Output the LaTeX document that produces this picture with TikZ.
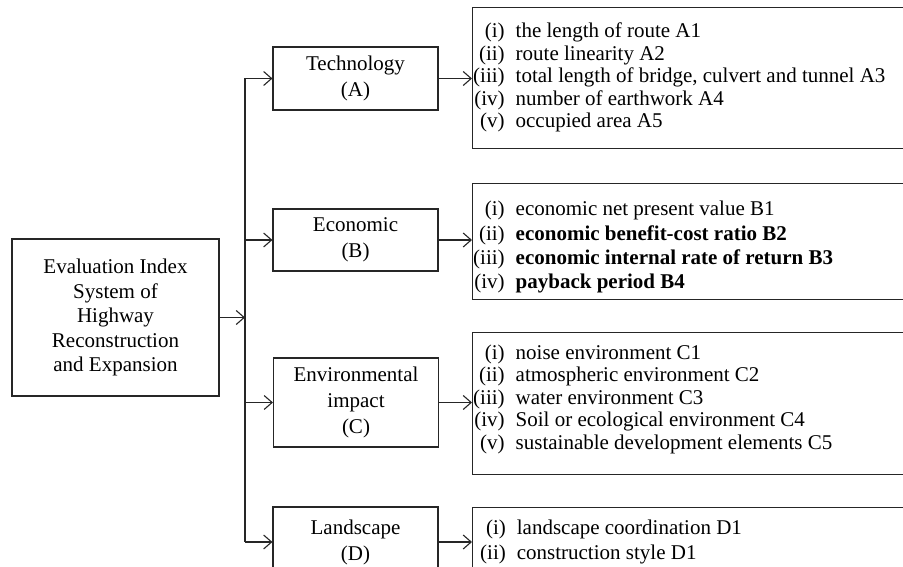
\documentclass[tikz,border=0pt]{standalone}
\usepackage{fontspec}
\setmainfont{Liberation Serif}
\usetikzlibrary{arrows.meta}
\definecolor{lc}{HTML}{262626}
\begin{document}
\begin{tikzpicture}[x=1pt,y=-1pt,
  box/.style={draw=lc, line width=1.1pt, rectangle, inner sep=0pt, align=center,
    text=black, font=\fontsize{21}{26}\selectfont},
  mainbox/.style={box, minimum width=207pt, minimum height=157pt,
    font=\fontsize{21}{24.5}\selectfont},
  catbox/.style={box, minimum width=165pt},
  listbox/.style={draw=lc, line width=1.1pt, rectangle, inner sep=0pt,
    minimum width=433pt, anchor=north west},
  listtext/.style={inner sep=0pt, anchor=west, text=black,
    font=\fontsize{21}{22.5}\selectfont},
  conn/.style={draw=lc, line width=1.1pt},
  arr/.style={conn, -{Straight Barb[length=8pt,width=14pt]}}]
\useasboundingbox (0,0) rectangle (903,567);
\clip (0,0) rectangle (903,567);

\node[mainbox] (main) at (115.5,317.5) {Evaluation Index\\System of\\Highway\\Reconstruction\\and Expansion};

\node[catbox, minimum height=63pt] (A) at (355.5,78.5) {Technology\\(A)};
\node[catbox, minimum height=62pt] (B) at (355.5,240) {Economic\\(B)};
\node[catbox, minimum height=89pt] (C) at (356,402.5) {Environmental\\impact\\(C)};
\node[catbox, minimum height=70pt] (D) at (355.5,542) {Landscape\\(D)};

\node[listbox, minimum height=141pt] (LA) at (472,7) {};
\node[listbox, minimum height=116pt] (LB) at (472,183) {};
\node[listbox, minimum height=142pt] (LC) at (472,332) {};
\node[listbox, minimum height=90pt] (LD) at (472,507) {};

\node[listtext] (TA) at ([xshift=1pt]LA.west) {\begin{tabular}{@{}r@{\hspace{11pt}}l@{}}
(i) & the length of route A1\\
(ii) & route linearity A2\\
(iii) & total length of bridge, culvert and tunnel A3\\
(iv) & number of earthwork A4\\
(v) & occupied area A5
\end{tabular}};
\node[listtext, font=\fontsize{21}{24.3}\selectfont] (TB) at ([shift={(1pt,-6pt)}]LB.west) {\begin{tabular}{@{}r@{\hspace{11pt}}l@{}}
(i) & economic net present value B1\\
(ii) & \textbf{economic benefit-cost ratio B2}\\
(iii) & \textbf{economic internal rate of return B3}\\
(iv) & \textbf{payback period B4}
\end{tabular}};
\node[listtext] (TC) at ([shift={(1pt,4pt)}]LC.west) {\begin{tabular}{@{}r@{\hspace{11pt}}l@{}}
(i) & noise environment C1\\
(ii) & atmospheric environment C2\\
(iii) & water environment C3\\
(iv) & Soil or ecological environment C4\\
(v) & sustainable development elements C5
\end{tabular}};
\node[listtext, anchor=north west, font=\fontsize{21}{25.5}\selectfont] (TD) at ([shift={(1pt,-9pt)}]LD.north west) {\begin{tabular}{@{\hspace{7pt}}r@{\hspace{11pt}}l@{}}
(i) & landscape coordination D1\\
(ii) & construction style D1
\end{tabular}};

\coordinate (bx) at (245,0);
\draw[conn] (bx |- A.west) -- (bx |- D.west);
\draw[arr] (main.east) -- (bx |- main.east);
\draw[arr] (bx |- A.west) -- (A.west);
\draw[arr] (bx |- B.west) -- (B.west);
\draw[arr] (bx |- C.west) -- (C.west);
\draw[arr] (bx |- D.west) -- (D.west);
\draw[arr] (A.east) -- (A.east -| LA.west);
\draw[arr] (B.east) -- (B.east -| LB.west);
\draw[arr] (C.east) -- (C.east -| LC.west);
\draw[arr] (D.east) -- (D.east -| LD.west);
\end{tikzpicture}
\end{document}
